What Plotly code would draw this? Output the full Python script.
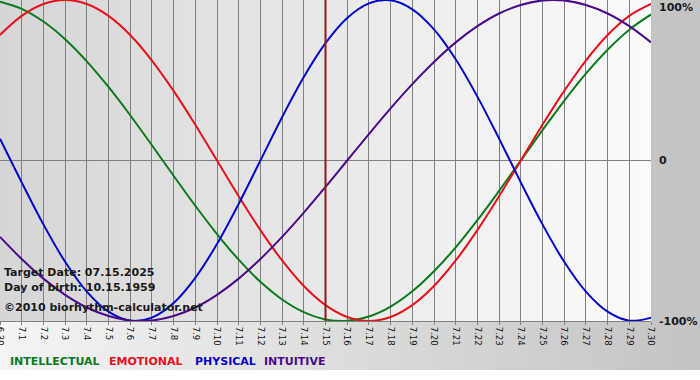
import plotly.graph_objects as go

# ---- data ----
dates = ["6.30"] + [f"7.{d}" for d in range(1, 31)]
physical = [0.136, -0.136, -0.398, -0.631, -0.817, -0.942, -0.998, -0.979, -0.888, -0.731,
            -0.520, -0.270, 0.0, 0.270, 0.520, 0.731, 0.888, 0.979, 0.998, 0.942,
            0.817, 0.631, 0.398, 0.136, -0.136, -0.398, -0.631, -0.817, -0.942, -0.998, -0.979]
emotional = [0.782, 0.901, 0.975, 1.0, 0.975, 0.901, 0.782, 0.623, 0.434, 0.223,
             0.0, -0.223, -0.434, -0.623, -0.782, -0.901, -0.975, -1.0, -0.975, -0.901,
             -0.782, -0.623, -0.434, -0.223, 0.0, 0.223, 0.434, 0.623, 0.782, 0.901, 0.975]
intellectual = [0.990, 0.945, 0.866, 0.756, 0.618, 0.458, 0.282, 0.095, -0.095, -0.282,
                -0.458, -0.618, -0.756, -0.866, -0.945, -0.990, -0.999, -0.972, -0.910, -0.815,
                -0.690, -0.541, -0.372, -0.189, 0.0, 0.189, 0.372, 0.541, 0.690, 0.815, 0.910]
intuitive = [-0.476, -0.614, -0.736, -0.837, -0.916, -0.969, -0.997, -0.997, -0.969, -0.916,
             -0.837, -0.736, -0.614, -0.476, -0.325, -0.165, 0.0, 0.165, 0.325, 0.476,
             0.614, 0.736, 0.837, 0.916, 0.969, 0.997, 0.997, 0.969, 0.916, 0.837, 0.736]
target_date = "7.15"
info_lines = ["Target Date: 07.15.2025", "Day of birth: 10.15.1959", "\u00a92010 biorhythm-calculator.net"]
y_labels = ["100%", "0", "-100%"]
y_label_vals = [1.0, 0.0, -1.0]
legend_names = ["INTELLECTUAL", "EMOTIONAL", "PHYSICAL", "INTUITIVE"]

W, H = 700, 380
ML, MR, MT, MB = 0, 49, 0, 59
PW, PH = W - ML - MR, H - MT - MB

colors = {"INTELLECTUAL": "#0b7a1e", "EMOTIONAL": "#e8101c", "PHYSICAL": "#0606c8", "INTUITIVE": "#4a0a8a"}
series = {"INTELLECTUAL": intellectual, "EMOTIONAL": emotional, "PHYSICAL": physical, "INTUITIVE": intuitive}

xs = list(range(len(dates)))
fig = go.Figure()


def lerp_gray(a, b, t):
    v = round(a + (b - a) * t)
    return f"rgb({v},{v},{v})"


shapes = []
# plot area gradient (left darker -> right lighter)
N = 60
for i in range(N):
    shapes.append(dict(type="rect", xref="paper", yref="paper", x0=i / N, x1=(i + 1) / N + 0.002,
                       y0=0, y1=1, fillcolor=lerp_gray(214, 251, i / (N - 1)), line_width=0, layer="below"))
# bottom band gradient (left light -> right darker)
band_bottom = -(370 - PH) / PH
M = 70
total_w = W / PW
for i in range(M):
    shapes.append(dict(type="rect", xref="paper", yref="paper", x0=i * total_w / M, x1=(i + 1) * total_w / M + 0.002,
                       y0=band_bottom, y1=0, fillcolor=lerp_gray(244, 196, i / (M - 1)), line_width=0, layer="below"))
# right panel
shapes.append(dict(type="rect", xref="paper", yref="paper", x0=1, x1=total_w, y0=0, y1=1.0,
                   fillcolor="rgb(196,196,196)", line_width=0, layer="below"))

fig.update_layout(shapes=shapes)

for name in legend_names:
    fig.add_trace(go.Scatter(x=xs, y=series[name], mode="lines", name=name,
                             line=dict(color=colors[name], width=2, shape="spline", smoothing=1.0),
                             hoverinfo="skip", showlegend=False))

# target date vertical line
ti = dates.index(target_date)
fig.add_trace(go.Scatter(x=[xs[ti], xs[ti]], y=[-1.02, 1.02], mode="lines",
                         line=dict(color="#8a1c1c", width=2), showlegend=False, hoverinfo="skip"))

annotations = []
info_y = [272, 287, 307]
for txt, ypx in zip(info_lines, info_y):
    annotations.append(dict(text=f"<b>{txt}</b>", xref="paper", yref="paper", x=0, xshift=2,
                            y=(PH - ypx) / PH, xanchor="left", yanchor="middle", showarrow=False,
                            font=dict(family="DejaVu Sans", size=11, color="#1a1a1a")))
for lab, v in zip(y_labels, y_label_vals):
    ys = -7 if v == 1.0 else 0
    annotations.append(dict(text=f"<b>{lab}</b>", xref="paper", yref="y", x=1, xshift=6, y=v, yshift=ys,
                            xanchor="left", yanchor="middle", showarrow=False,
                            font=dict(family="DejaVu Sans", size=11, color="#1a1a1a")))
legend_x = [8, 107, 193, 262]
for name, lx in zip(legend_names, legend_x):
    annotations.append(dict(text=f"<b>{name}</b>", xref="paper", yref="paper", x=lx / PW, y=(PH - 362) / PH,
                            xanchor="left", yanchor="middle", showarrow=False,
                            font=dict(family="DejaVu Sans", size=11, color=colors[name])))

fig.update_layout(
    width=W, height=H,
    margin=dict(l=ML, r=MR, t=MT, b=MB, pad=0, autoexpand=False),
    paper_bgcolor="white",
    plot_bgcolor="rgba(0,0,0,0)",
    annotations=annotations,
    xaxis=dict(range=[0, len(dates) - 1], tickmode="array", tickvals=xs, ticktext=dates,
               tickangle=90, tickfont=dict(family="DejaVu Sans", size=8.5, color="#111111"),
               ticklabeloverflow="allow",
               showgrid=True, gridcolor="#808080", gridwidth=1, zeroline=False,
               showline=True, linecolor="#808080", linewidth=1, automargin=False,
               ticks="outside", ticklen=3, tickcolor="#808080", fixedrange=True),
    yaxis=dict(range=[-1.0, 1.0], showticklabels=False, showgrid=False, automargin=False,
               zeroline=True, zerolinecolor="#808080", zerolinewidth=1, fixedrange=True),
    showlegend=False,
)

fig.write_html("out.html", config={"displayModeBar": False},
               post_script="document.body.style.margin='0';document.body.style.padding='0';")
